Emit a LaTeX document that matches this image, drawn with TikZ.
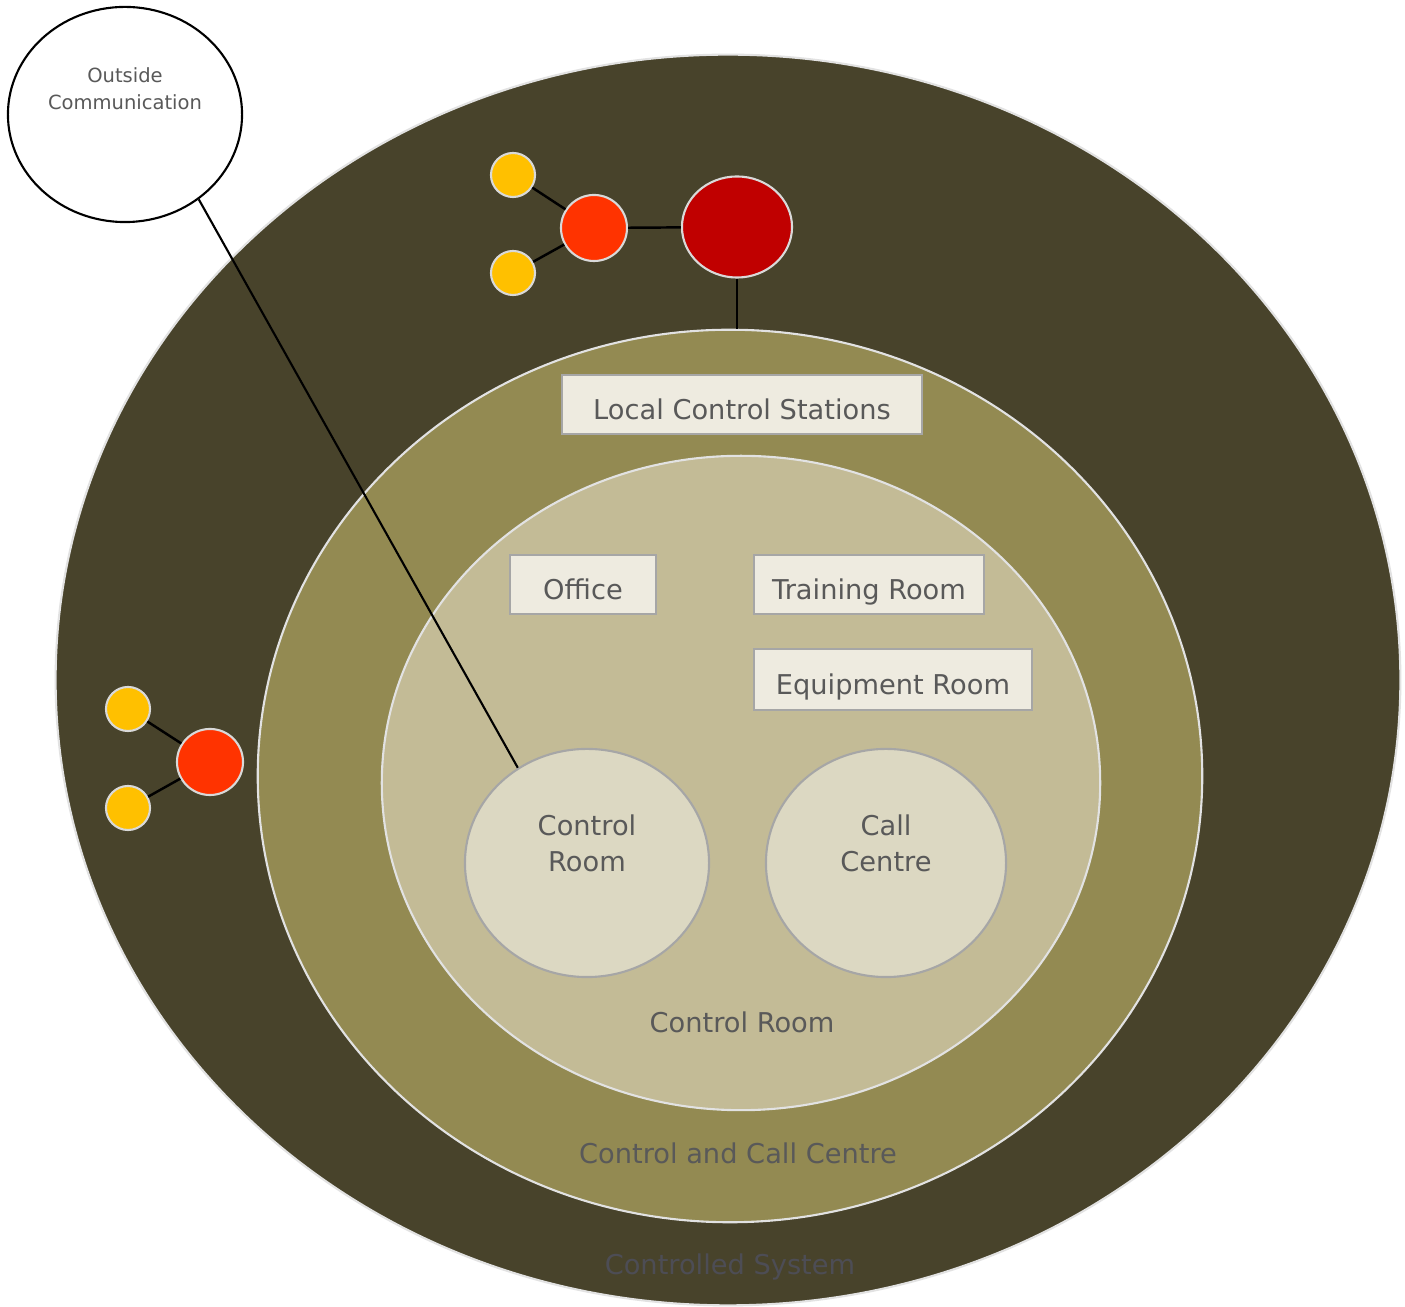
\documentclass[tikz,border=0pt]{standalone}
\usepackage{fontspec}
\setmainfont{DejaVu Sans}
\usetikzlibrary{shapes.geometric}
\definecolor{outerfill}{HTML}{48432B}
\definecolor{midfill}{HTML}{938A52}
\definecolor{innerfill}{HTML}{C3BB96}
\definecolor{roomfill}{HTML}{DCD8C2}
\definecolor{boxfill}{HTML}{EEEBE0}
\definecolor{boxline}{HTML}{A6A6A6}
\definecolor{zoneline}{HTML}{E2E2E2}
\definecolor{txt}{HTML}{595959}
\definecolor{darktxt}{HTML}{4D4D55}
\definecolor{dred}{HTML}{C00000}
\definecolor{bred}{HTML}{FF3300}
\definecolor{yel}{HTML}{FFC000}
\definecolor{dotline}{HTML}{D9D9D9}
\begin{document}
\begin{tikzpicture}[x=0.01cm,y=-0.01cm,
  zone/.style={ellipse, draw=zoneline, line width=0.6pt, inner sep=0pt},
  roomcirc/.style={ellipse, draw=boxline, fill=roomfill, line width=0.6pt, inner sep=0pt},
  roombox/.style={rectangle, draw=boxline, fill=boxfill, line width=0.7pt, inner sep=0pt, text=txt, font=\fontsize{7.75}{10}\selectfont, text height=0.86em, text depth=0pt},
  lbl/.style={text=txt, font=\fontsize{7.75}{10.2}\selectfont, align=center, inner sep=0pt},
  dot/.style={circle, draw=dotline, line width=0.6pt, inner sep=0pt},
  link/.style={draw=black, line width=0.7pt},
]
\useasboundingbox (0,0) rectangle (1405,1307);
\fill[white] (0,0) rectangle (1405,1307);
% zones
\node[zone, fill=outerfill, minimum width=13.44cm, minimum height=12.5cm] (outer) at (728,680) {};
\node[zone, fill=midfill, minimum width=9.44cm, minimum height=8.92cm] (mid) at (730,776) {};
\node[zone, fill=innerfill, minimum width=7.18cm, minimum height=6.54cm] (inner) at (741,783) {};
% rooms
\node[roomcirc, minimum width=2.44cm, minimum height=2.28cm] (crc) at (587,863) {};
\node[roomcirc, minimum width=2.40cm, minimum height=2.28cm] (ccc) at (886,863) {};
\node[lbl, anchor=north] (crtxt) at (587,814) {Control\\Room};
\node[lbl, anchor=north] (cctxt) at (886,814) {Call\\Centre};
\node[roombox, minimum width=3.6cm, minimum height=0.59cm] (lcs) at (742,404.5) {Local Control Stations};
\node[roombox, minimum width=1.46cm, minimum height=0.59cm] (office) at (583,584.5) {Office};
\node[roombox, minimum width=2.30cm, minimum height=0.59cm] (train) at (869,584.5) {Training Room};
\node[roombox, minimum width=2.78cm, minimum height=0.61cm] (equip) at (893,679.5) {Equipment Room};
% zone labels
\node[lbl] (crlabel) at (742,1022) {Control Room};
\node[lbl] (cclabel) at (738,1153) {Control and Call Centre};
\node[lbl, text=darktxt] (cslabel) at (730,1267) {Controlled System};
% top cluster
\node[dot, fill=dred, minimum width=1.1cm, minimum height=1.01cm, ellipse] (dr) at (737,227) {};
\node[dot, fill=bred, minimum size=0.66cm] (r1) at (594,228) {};
\node[dot, fill=yel, minimum size=0.44cm] (y1) at (513,175) {};
\node[dot, fill=yel, minimum size=0.44cm] (y2) at (513,273) {};
\draw[link] (y1) -- (r1);
\draw[link] (y2) -- (r1);
\draw[link] (r1) -- (dr);
\draw[link] (dr) -- (dr |- mid.north);
% left cluster
\node[dot, fill=bred, minimum size=0.66cm] (r2) at (210,762) {};
\node[dot, fill=yel, minimum size=0.44cm] (y3) at (128,709) {};
\node[dot, fill=yel, minimum size=0.44cm] (y4) at (128,808) {};
\draw[link] (y3) -- (r2);
\draw[link] (y4) -- (r2);
% outside communication
\node[ellipse, draw=black, fill=white, line width=0.6pt, inner sep=0pt, minimum width=2.34cm, minimum height=2.15cm] (oc) at (125,114.5) {};
\node[lbl, font=\fontsize{5.55}{7.7}\selectfont, anchor=north] (octxt) at (125,67) {Outside\\Communication};
\draw[link, line width=0.6pt] (oc.-49) -- (crc.126);
\end{tikzpicture}
\end{document}
